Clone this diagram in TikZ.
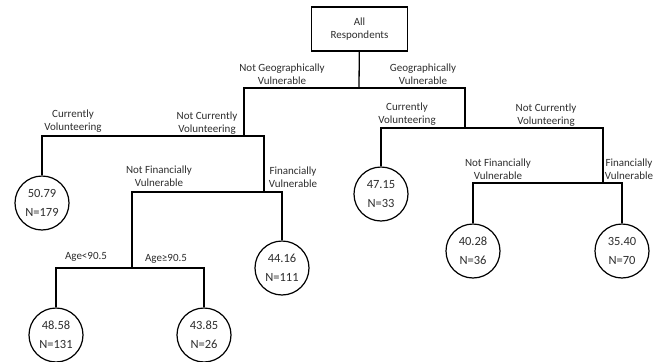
\documentclass[tikz,border=0pt]{standalone}
\usepackage{fontspec}
\setmainfont{Carlito}
\usetikzlibrary{positioning}
\definecolor{labelgray}{RGB}{45,45,45}

\begin{document}
\begin{tikzpicture}[
    x=1pt, y=-1pt,
    % Styles for the tree
    rootbox/.style={draw, rectangle, minimum width=96pt, minimum height=44pt, line width=1.2pt, align=center, font=\fontsize{11}{12.5}\selectfont, text=labelgray},
    leaf/.style={draw, circle, minimum size=54pt, inner sep=0pt, line width=1.2pt, align=center, font=\fontsize{12.5}{19}\selectfont, text=labelgray},
    lbl/.style={align=center, font=\fontsize{11}{13}\selectfont, text=labelgray, inner sep=0pt},
    branch/.style={line width=1.3pt}
]
\useasboundingbox (0,0) rectangle (657,362);

    % --- NODES ---
    \node [rootbox] (all) at (359.5,29) {All\\Respondents};

    % split points
    \coordinate (geo) at (359,88);
    \coordinate (notgeo) at (244,136);
    \coordinate (notvol) at (264,192);
    \coordinate (notfin) at (132,268);
    \coordinate (isgeo) at (465,128);
    \coordinate (notvolg) at (603,183);

    % leaves
    \node [leaf] (vol) at (42,203) {50.79\\N=179};
    \node [leaf] (young) at (56,335) {48.58\\N=131};
    \node [leaf] (old) at (204,335) {43.85\\N=26};
    \node [leaf] (fin) at (282,268) {44.16\\N=111};
    \node [leaf] (volg) at (381,194) {47.15\\N=33};
    \node [leaf] (notfing) at (473,251) {40.28\\N=36};
    \node [leaf] (fing) at (622,251) {35.40\\N=70};

    % --- CONNECTIONS ---
    \draw [branch] (all) -- (geo);
    \draw [branch] (geo) -| (notgeo);
    \draw [branch] (geo) -| (isgeo);

    \draw [branch] (notgeo) -| (vol);
    \draw [branch] (notgeo) -| (notvol);
    \draw [branch] (notvol) -| (notfin);
    \draw [branch] (notvol) -| (fin);
    \draw [branch] (notfin) -| (young);
    \draw [branch] (notfin) -| (old);

    \draw [branch] (isgeo) -| (volg);
    \draw [branch] (isgeo) -| (notvolg);
    \draw [branch] (notvolg) -| (notfing);
    \draw [branch] (notvolg) -| (fing);

    % --- LABELS ---
    \node [lbl] (lnotgeo) at (282,74) {Not Geographically\\Vulnerable};
    \node [lbl] (lgeo) at (423,74) {Geographically\\Vulnerable};
    \node [lbl] (lvol) at (73,121) {Currently\\Volunteering};
    \node [lbl] (lnotvol) at (207,123) {Not Currently\\Volunteering};
    \node [lbl] (lvolg) at (407,114) {Currently\\Volunteering};
    \node [lbl] (lnotvolg) at (546,115) {Not Currently\\Volunteering};
    \node [lbl] (lnotfin) at (159,176) {Not Financially\\Vulnerable};
    \node [lbl] (lfin) at (293,177) {Financially\\Vulnerable};
    \node [lbl] (lnotfing) at (498,169) {Not Financially\\Vulnerable};
    \node [lbl] (lfing) at (629,169) {Financially\\Vulnerable};
    \node [lbl] (lyoung) at (86,257) {Age<90.5};
    \node [lbl] (lold) at (166,259) {Age≥90.5};

\end{tikzpicture}
\end{document}
